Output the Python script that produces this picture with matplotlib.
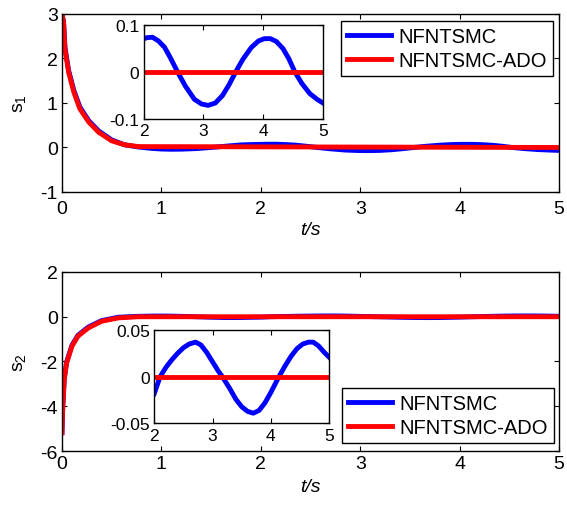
import numpy as np
import matplotlib
matplotlib.use("Agg")
import matplotlib.pyplot as plt

plt.rcParams['font.family'] = ['Liberation Sans', 'DejaVu Sans']
plt.rcParams['mathtext.default'] = 'regular'
plt.rcParams['axes.unicode_minus'] = False

## datos ##
# s1, transitorio
t1_tr = [0.0, 0.016, 0.03, 0.067, 0.12, 0.18, 0.27, 0.37, 0.50, 0.63, 0.77]
s1_ado_tr = [3.0, 2.81, 2.21, 1.69, 1.24, 0.87, 0.57, 0.34, 0.15, 0.06, 0.02]
s1_nf_tr = [3.0, 2.83, 2.25, 1.73, 1.28, 0.91, 0.60, 0.37, 0.17, 0.06, 0.01]
# s1, tramo medio (solo NFNTSMC)
t1_mid = [0.9, 1.0, 1.1, 1.2, 1.35, 1.5, 1.65, 1.8, 1.9]
s1_nf_mid = [-0.02, -0.035, -0.04, -0.038, -0.025, 0.0, 0.03, 0.058, 0.066]
# s1, ventana 2-5 s
t1_in = [2.0, 2.05, 2.15, 2.25, 2.35, 2.45, 2.57, 2.7, 2.85, 2.97, 3.08, 3.2,
         3.32, 3.43, 3.54, 3.66, 3.8, 3.92, 4.02, 4.12, 4.22, 4.33, 4.43,
         4.53, 4.65, 4.78, 4.9, 5.0]
s1_nf_in = [0.070, 0.073, 0.074, 0.066, 0.053, 0.030, 0.0, -0.030, -0.058,
            -0.068, -0.071, -0.066, -0.050, -0.027, 0.0, 0.027, 0.052, 0.066,
            0.071, 0.071, 0.065, 0.050, 0.028, 0.0, -0.025, -0.046, -0.058,
            -0.066]
s1_ado_in = [0.0, 0.0]
t1_ado_in = [2.0, 5.0]

# s2, transitorio
t2_tr = [0.0, 0.007, 0.023, 0.047, 0.1, 0.16, 0.265, 0.40, 0.57, 0.77]
s2_ado_tr = [-5.18, -4.14, -2.8, -2.06, -1.32, -0.87, -0.5, -0.2, -0.05, 0.0]
s2_nf_tr = [-5.18, -4.12, -2.76, -2.02, -1.28, -0.83, -0.46, -0.17, -0.02, 0.02]
# s2, tramo medio
t2_mid = [0.9, 1.0, 1.1, 1.2, 1.3, 1.4, 1.5, 1.6, 1.7, 1.8, 1.9]
s2_nf_mid = [0.03, 0.032, 0.028, 0.018, 0.006, -0.008, -0.022, -0.033,
             -0.038, -0.034, -0.026]
# s2, ventana 2-5 s
t2_in = [2.0, 2.1, 2.2, 2.3, 2.4, 2.5, 2.6, 2.71, 2.8, 2.9, 3.0, 3.1, 3.17,
         3.3, 3.4, 3.5, 3.6, 3.7, 3.8, 3.9, 4.0, 4.14, 4.25, 4.35, 4.45,
         4.55, 4.65, 4.73, 4.82, 4.92, 5.0]
s2_nf_in = [-0.018, 0.0, 0.010, 0.018, 0.025, 0.031, 0.035, 0.037, 0.034,
            0.026, 0.016, 0.006, 0.0, -0.013, -0.024, -0.032, -0.037, -0.039,
            -0.036, -0.028, -0.017, 0.0, 0.012, 0.022, 0.030, 0.035, 0.037,
            0.037, 0.033, 0.026, 0.021]
s2_ado_in = [0.0, 0.0]
t2_ado_in = [2.0, 5.0]

names = ["NFNTSMC", "NFNTSMC-ADO"]
lw = 3.5
fs = 14
fs_leg = 14.5
fs_in = 12.5

def estilo(ax, size):
    ax.tick_params(direction='in', top=True, right=True, length=3.5,
                   width=0.8, labelsize=size, pad=3)
    for sp in ax.spines.values():
        sp.set_linewidth(1.0)

fig = plt.figure(figsize=(5.67, 5.06), dpi=100)

##grafico de s1##
ax1 = fig.add_axes([0.1093, 0.6186, 0.8765, 0.3518])
tb = t1_tr + t1_mid + t1_in
ax1.plot(tb, s1_nf_tr + s1_nf_mid + s1_nf_in, c="blue", lw=lw, label=names[0])
ax1.plot(t1_tr + [5.0], s1_ado_tr + [0.0], c="red", lw=lw, label=names[1])
ax1.set_xlim(0, 5)
ax1.set_ylim(-1, 3)
ax1.set_yticks([-1, 0, 1, 2, 3])
estilo(ax1, fs)
ax1.tick_params(axis='x', pad=5.5)
ax1.set_xlabel("t/s", fontsize=fs, style="italic", labelpad=3)
ax1.set_ylabel("$s_1$", fontsize=fs, labelpad=9)
ax1.legend(loc="upper right", bbox_to_anchor=(553 / 567, 1 - 22 / 506),
           bbox_transform=fig.transFigure, fontsize=fs_leg, fancybox=False,
           edgecolor="black", framealpha=1, handlelength=2.2,
           handletextpad=0.35, borderpad=0.3, labelspacing=0.25,
           borderaxespad=0)

ins1 = fig.add_axes([0.2531, 0.7628, 0.3166, 0.1858])
ins1.plot(t1_in, s1_nf_in, c="blue", lw=lw)
ins1.plot(t1_ado_in, s1_ado_in, c="red", lw=lw)
ins1.set_xlim(2, 5)
ins1.set_ylim(-0.1, 0.1)
ins1.set_xticks([2, 3, 4, 5])
ins1.set_yticks([-0.1, 0, 0.1])
ins1.set_yticklabels(["-0.1", "0", "0.1"])
estilo(ins1, fs_in)

##grafico de s2##
ax2 = fig.add_axes([0.1093, 0.1067, 0.8765, 0.3538])
tb2 = t2_tr + t2_mid + t2_in
ax2.plot(tb2, s2_nf_tr + s2_nf_mid + s2_nf_in, c="blue", lw=lw, label=names[0])
ax2.plot(t2_tr + [5.0], s2_ado_tr + [0.0], c="red", lw=lw, label=names[1])
ax2.set_xlim(0, 5)
ax2.set_ylim(-6, 2)
ax2.set_yticks([-6, -4, -2, 0, 2])
estilo(ax2, fs)
ax2.set_xlabel("t/s", fontsize=fs, style="italic", labelpad=4)
ax2.set_ylabel("$s_2$", fontsize=fs, labelpad=9)
ax2.legend(loc="lower right", bbox_to_anchor=(554 / 567, 1 - 444 / 506),
           bbox_transform=fig.transFigure, fontsize=fs_leg, fancybox=False,
           edgecolor="black", framealpha=1, handlelength=2.2,
           handletextpad=0.35, borderpad=0.3, labelspacing=0.25,
           borderaxespad=0)

ins2 = fig.add_axes([0.2721, 0.1611, 0.3081, 0.1848])
ins2.plot(t2_in, s2_nf_in, c="blue", lw=lw)
ins2.plot(t2_ado_in, s2_ado_in, c="red", lw=lw)
ins2.set_xlim(2, 5)
ins2.set_ylim(-0.05, 0.05)
ins2.set_xticks([2, 3, 4, 5])
ins2.set_yticks([-0.05, 0, 0.05])
ins2.set_yticklabels(["-0.05", "0", "0.05"])
estilo(ins2, fs_in)

plt.savefig("out.png", dpi=100)
